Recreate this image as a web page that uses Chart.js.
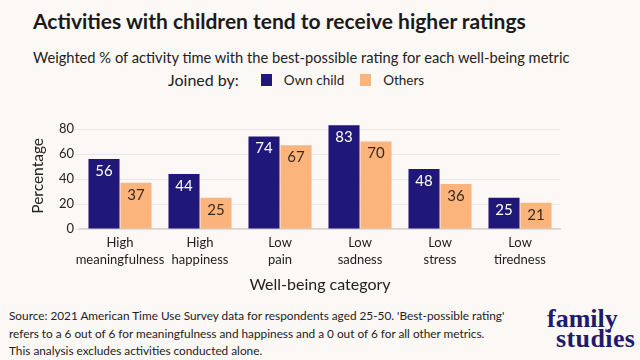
<!DOCTYPE html>
<html>
<head>
<meta charset="utf-8">
<script src="https://cdn.jsdelivr.net/npm/chart.js@4"></script>
<style>
  html, body { margin: 0; padding: 0; }
  body { width: 640px; height: 360px; background: #fcf8f5; position: relative; overflow: hidden; font-family: Lato, sans-serif; color: #1a1a1a; }
  #title { position: absolute; left: 33px; top: 8px; font-size: 21px; font-weight: bold; white-space: nowrap; }
  #subtitle { position: absolute; left: 33px; top: 48px; font-size: 14.7px; white-space: nowrap; color: #222; }
  #legend { position: absolute; left: 168px; top: 70px; font-size: 16px; white-space: nowrap; display: flex; align-items: center; color: #222; }
  #legend .sw { display: inline-block; width: 11px; height: 12px; margin: 0 12px 0 0; }
  #legend .item { display: flex; align-items: center; font-size: 13.5px; margin-right: 16px; }
  #chartBox { position: absolute; left: 0; top: 100px; width: 640px; height: 200px; }
  #note { position: absolute; left: 9px; top: 307px; font-size: 11.8px; line-height: 17.5px; color: #222; white-space: nowrap; }
  .logo { position: absolute; font-family: "Liberation Serif", serif; font-weight: bold; color: #1f1a6b; font-size: 26px; line-height: 26px; white-space: nowrap; }
</style>
</head>
<body>
<div id="title">Activities with children tend to receive higher ratings</div>
<div id="subtitle">Weighted % of activity time with the best-possible rating for each well-being metric</div>
<div id="legend">
  <span style="margin-right: 22px;">Joined by:</span>
  <span class="item"><span class="sw" style="background:#1f1878"></span>Own child</span>
  <span class="item"><span class="sw" style="background:#fab47c"></span>Others</span>
</div>
<div id="chartBox"><canvas id="chart" width="640" height="200"></canvas></div>
<div id="note">Source: 2021 American Time Use Survey data for respondents aged 25-50. 'Best-possible rating'<br>refers to a 6 out of 6 for meaningfulness and happiness and a 0 out of 6 for all other metrics.<br>This analysis excludes activities conducted alone.</div>
<div class="logo" style="left: 547px; top: 306px;">family</div>
<div class="logo" style="left: 556px; top: 326px; letter-spacing: 0.4px;">studies</div>
<script>
document.addEventListener("DOMContentLoaded", function () {
    const categories = [
        ["High", "meaningfulness"],
        ["High", "happiness"],
        ["Low", "pain"],
        ["Low", "sadness"],
        ["Low", "stress"],
        ["Low", "tiredness"]
    ];
    const ownChild = [56, 44, 74, 83, 48, 25];
    const others = [37, 25, 67, 70, 36, 21];
    const yTicks = [0, 20, 40, 60, 80];

    const navy = "#1f1878";
    const orange = "#fab47c";

    // Value labels drawn inside the top of each bar
    const barLabels = {
        id: "barLabels",
        afterDatasetsDraw(chart) {
            const ctx = chart.ctx;
            ctx.save();
            ctx.font = "15px Lato";
            ctx.textAlign = "center";
            ctx.textBaseline = "middle";
            chart.data.datasets.forEach((ds, i) => {
                const meta = chart.getDatasetMeta(i);
                meta.data.forEach((bar, j) => {
                    ctx.fillStyle = i === 0 ? "#ffffff" : "#3a2a1e";
                    ctx.fillText(ds.data[j], bar.x, bar.y + 12);
                });
            });
            ctx.restore();
        }
    };

    const ctx = document.getElementById("chart").getContext("2d");
    new Chart(ctx, {
        type: "bar",
        data: {
            labels: categories,
            datasets: [
                { label: "Own child", data: ownChild, backgroundColor: navy },
                { label: "Others", data: others, backgroundColor: orange }
            ]
        },
        plugins: [barLabels],
        options: {
            responsive: false,
            maintainAspectRatio: false,
            animation: false,
            events: [],
            layout: { padding: { top: 22.75, right: 80, bottom: 0, left: 0 } },
            datasets: { bar: { categoryPercentage: 0.8, barPercentage: 0.97 } },
            plugins: { legend: { display: false }, tooltip: { enabled: false } },
            scales: {
                x: {
                    grid: { display: false },
                    border: { color: "#d8d3d3", width: 1.5 },
                    ticks: { color: "#222", font: { family: "Lato", size: 13, lineHeight: 1.3 }, padding: -3, maxRotation: 0, autoSkip: false },
                    title: { display: true, text: "Well-being category", color: "#222", font: { family: "Lato", size: 16 }, padding: { top: 0, bottom: 6 } },
                    afterFit(scale) { scale.height = 71; }
                },
                y: {
                    min: 0,
                    max: 85,
                    afterBuildTicks(scale) { scale.ticks = yTicks.map(v => ({ value: v })); },
                    grid: { color: "#ebe6e6", tickLength: 5 },
                    border: { display: false },
                    ticks: { color: "#222", font: { family: "Lato", size: 13 }, padding: 1 },
                    title: { display: true, text: "Percentage", color: "#222", font: { family: "Lato", size: 15.5 }, padding: { top: 29, bottom: 0 } },
                    afterFit(scale) { scale.width = 80; }
                }
            }
        }
    });
});
</script>
</body>
</html>
